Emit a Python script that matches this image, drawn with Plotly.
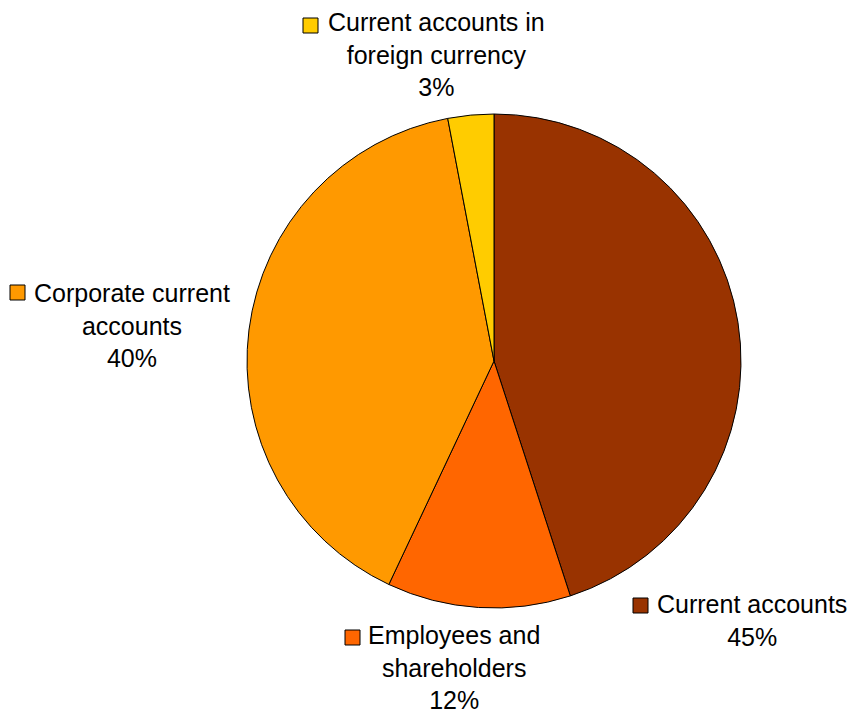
import plotly.graph_objects as go

# Deposit structure by account type
categories = ["Current accounts", "Employees and shareholders",
              "Corporate current accounts", "Current accounts in foreign currency"]
shares = [45, 12, 40, 3]
colors = ["#993300", "#FF6600", "#FF9900", "#FFCC00"]

# Wrapped text for the outside labels
label_lines = ["Current accounts", "Employees and<br>shareholders",
               "Corporate current<br>accounts", "Current accounts in<br>foreign currency"]

W, H = 855, 713
cx, cy, r = 494, 361, 247

fig = go.Figure(go.Pie(
    labels=categories,
    values=shares,
    sort=False,
    direction="clockwise",
    rotation=0,
    marker=dict(colors=colors, line=dict(color="black", width=1)),
    textinfo="none",
    hoverinfo="label+percent",
    showlegend=False,
    domain=dict(x=[(cx - r) / W, (cx + r) / W],
                y=[(H - cy - r) / H, (H - cy + r) / H]),
))

# label placement: text centre (px), square top-left (px)
placements = [
    dict(tx=752, ty=620, sx=633, sy=598),
    dict(tx=454, ty=667, sx=345, sy=630),
    dict(tx=132, ty=325, sx=10, sy=285),
    dict(tx=437, ty=55, sx=303, sy=18),
]
sq = 15

annotations = []
shapes = []
for name, val, col, p in zip(label_lines, shares, colors, placements):
    annotations.append(dict(
        x=p["tx"] / W, y=1 - p["ty"] / H, xref="paper", yref="paper",
        text=f"{name}<br>{val}%", showarrow=False,
        xanchor="center", yanchor="middle", align="center",
        font=dict(family="Liberation Sans, Arial, sans-serif", size=25, color="black"),
    ))
    shapes.append(dict(
        type="rect", xref="paper", yref="paper",
        x0=p["sx"] / W, x1=(p["sx"] + sq) / W,
        y0=1 - (p["sy"] + sq) / H, y1=1 - p["sy"] / H,
        fillcolor=col, line=dict(color="black", width=1),
    ))

fig.update_layout(
    width=W, height=H,
    margin=dict(l=0, r=0, t=0, b=0),
    paper_bgcolor="white", plot_bgcolor="white",
    annotations=annotations, shapes=shapes,
)

fig.write_html("out.html")
